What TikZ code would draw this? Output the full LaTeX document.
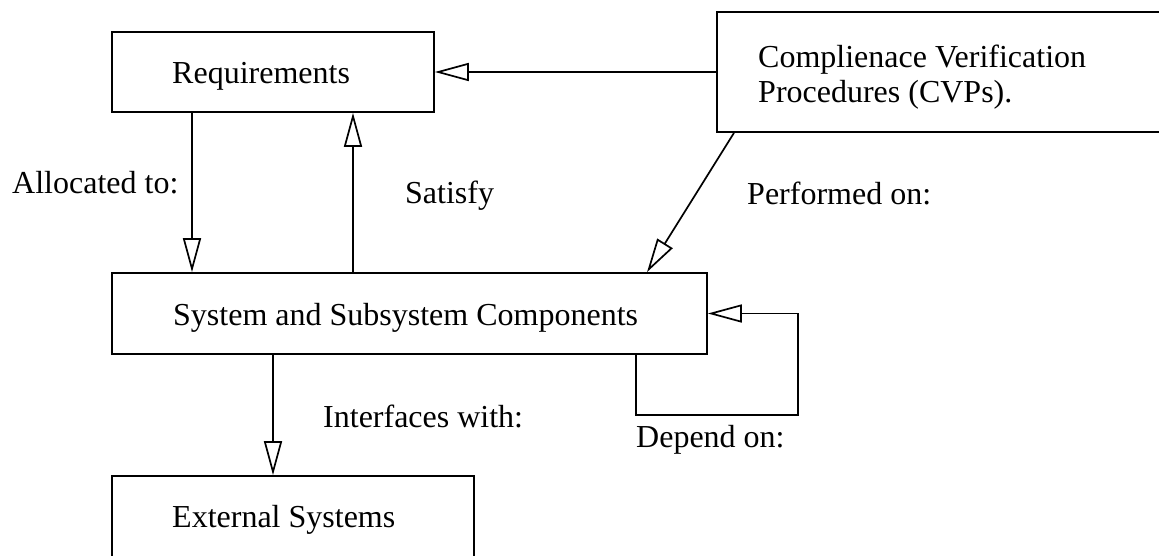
\documentclass[tikz,border=0pt]{standalone}
\usepackage{fontspec}
\setmainfont{Liberation Serif}
\usetikzlibrary{arrows.meta}
\begin{document}
\begin{tikzpicture}[x=1pt,y=-1pt,
  box/.style={draw, line width=1.7pt, inner sep=0pt},
  lbl/.style={inner sep=0pt, anchor=base west, font=\fontsize{32}{35}\selectfont},
  link/.style={line width=1.7pt, -{Triangle[open,length=34pt,width=18pt]}}]
\useasboundingbox (0,0) rectangle (1159,555);
\fill[white] (0,0) rectangle (1159,555);

% boxes (the procedures box and the external box run past the page edge)
\node[box, minimum width=322pt, minimum height=80pt]  (req) at (273,72) {};
\node[box, minimum width=473pt, minimum height=120pt] (cvp) at (953.5,72) {};
\node[box, minimum width=595pt, minimum height=81pt]  (sys) at (409.5,313.5) {};
\node[box, minimum width=362pt, minimum height=124pt] (ext) at (293,538) {};

% box texts
\node[lbl] (treq)  at (172,83)  {Requirements};
\node[lbl] (tcvpa) at (758,67)  {Complienace Verification};
\node[lbl] (tcvpb) at (758,102) {Procedures (CVPs).};
\node[lbl] (tsys)  at (173,325) {System and Subsystem Components};
\node[lbl] (text)  at (172,527) {External Systems};

% connector labels
\node[lbl] (lalloc) at (12,193)  {Allocated to:};
\node[lbl] (lsat)   at (405,203) {Satisfy};
\node[lbl] (lperf)  at (747,204) {Performed on:};
\node[lbl] (lint)   at (323,427) {Interfaces with:};
\node[lbl] (ldep)   at (636,447) {Depend on:};

% x / y positions of the connectors
\coordinate (ca) at (192,0);
\coordinate (cs) at (353,0);
\coordinate (ci) at (273,0);
\coordinate (cpa) at (734,0);
\coordinate (cpb) at (647,0);
\coordinate (cd) at (636,0);
\coordinate (cr) at (798,0);
\coordinate (cb) at (0,415);

% connectors
\draw[link] (cvp.west) -- (req.east);
\draw[link] (ca |- req.south) -- (ca |- sys.north);
\draw[link] (cs |- sys.north) -- (cs |- req.south);
\draw[link] (cpa |- cvp.south) -- (cpb |- sys.north);
\draw[link] (ci |- sys.south) -- (ci |- ext.north);
\draw[link] (cd |- sys.south) -- (cd |- cb) -| (cr |- sys.east) -- (sys.east);
\end{tikzpicture}
\end{document}
